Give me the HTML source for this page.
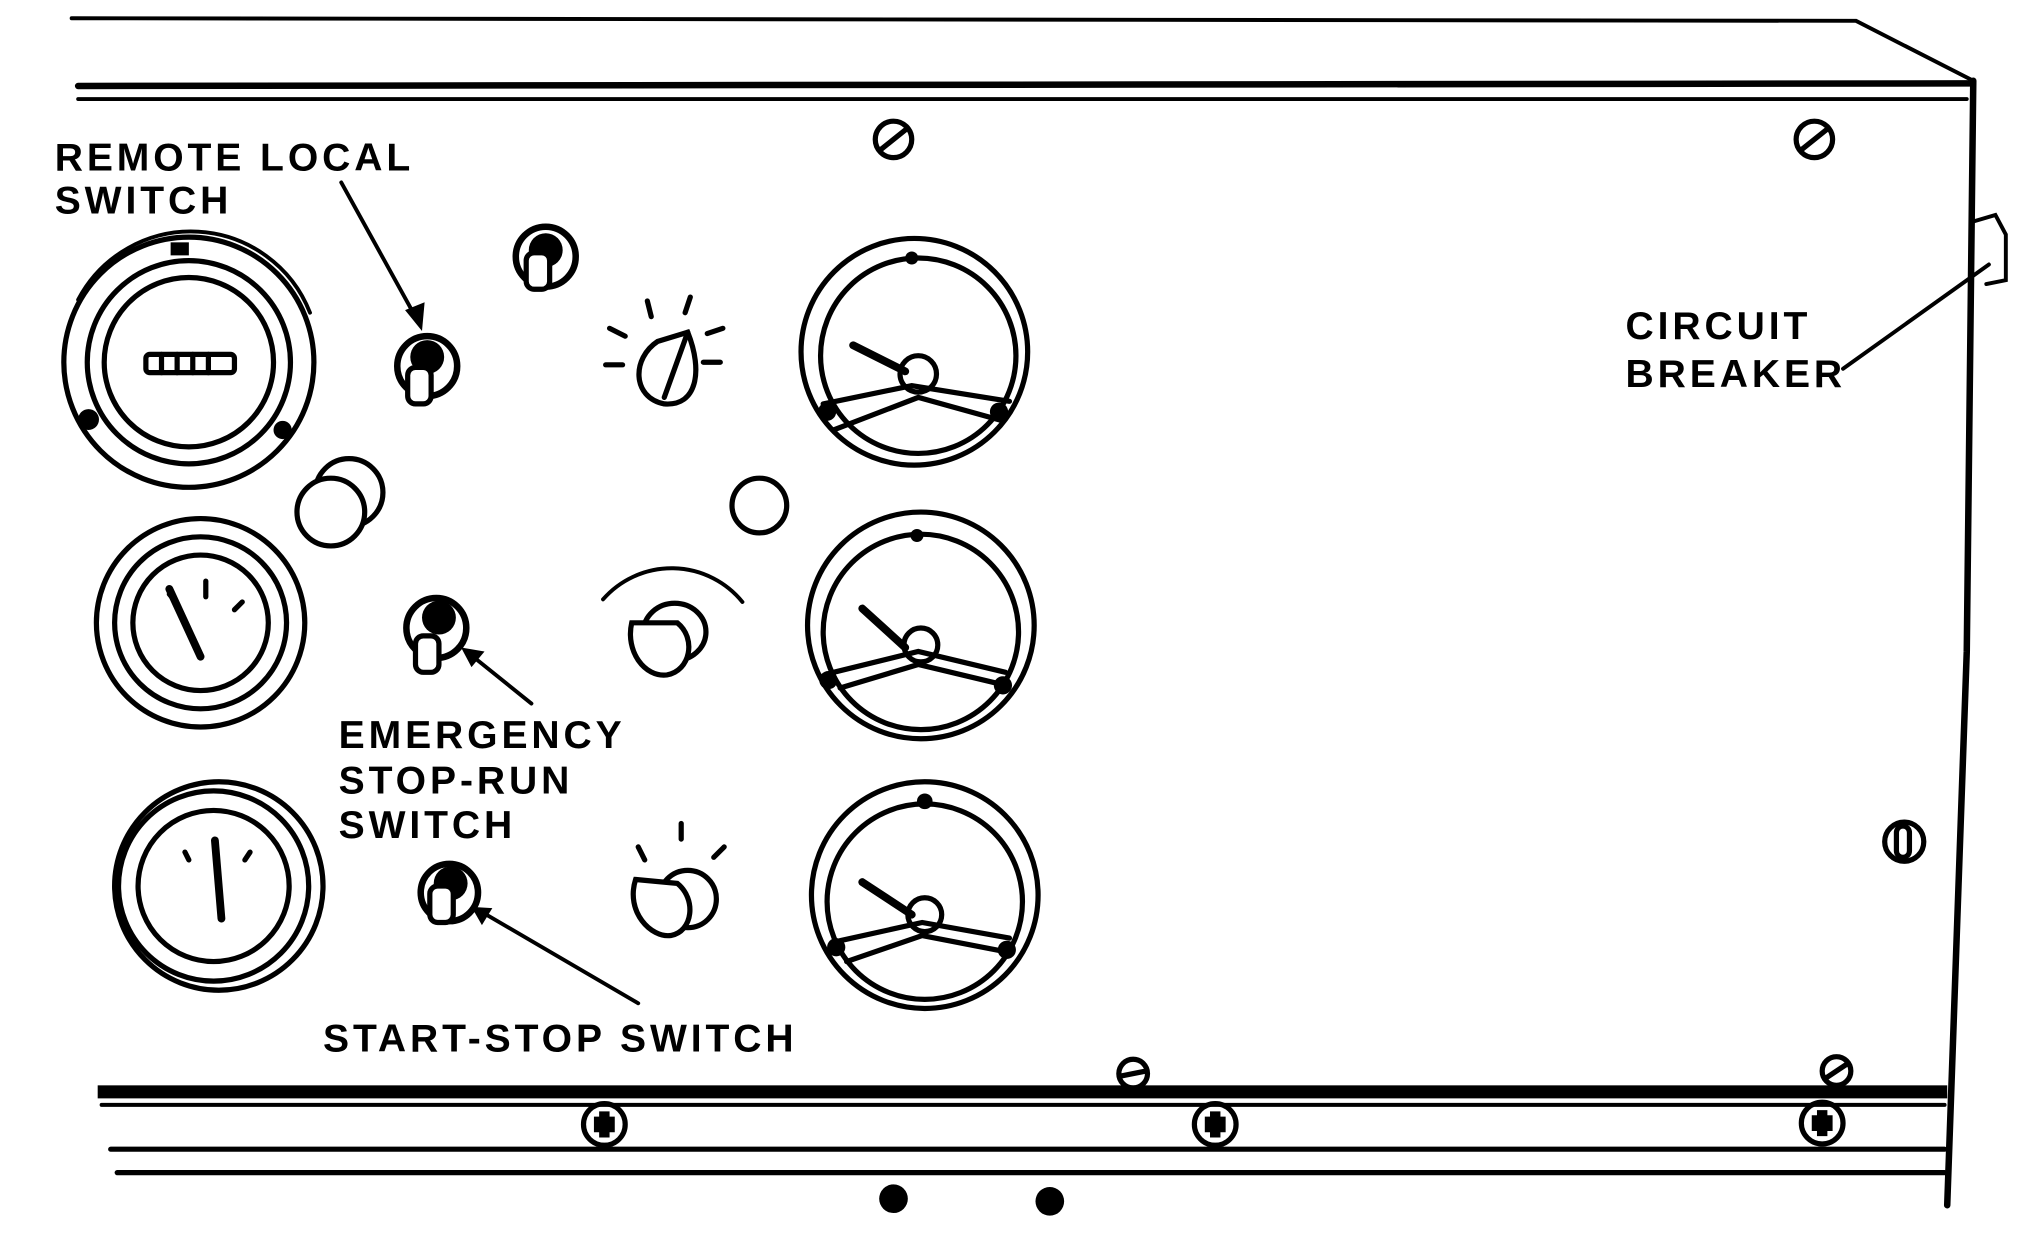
<!DOCTYPE html>
<html><head><meta charset="utf-8"><style>
html,body{margin:0;padding:0;background:#fff}
svg{display:block}
text{font-family:"Liberation Sans",sans-serif;font-weight:bold;font-size:30px;fill:#000;letter-spacing:3px}
</style></head><body>
<svg width="2041" height="1243" viewBox="0 0 1567 954" preserveAspectRatio="none" xmlns="http://www.w3.org/2000/svg">
<g fill="none" stroke="#000" stroke-linecap="round" stroke-width="4">
<path d="M55 14 L1425 16 L1515 62" stroke-width="3"/>
<line x1="60" y1="66" x2="1515" y2="64" stroke-width="5"/>
<line x1="60" y1="76" x2="1510" y2="76" stroke-width="3"/>
<path d="M1515 62 L1510 500 L1495 925" stroke-width="5"/>
<path d="M1515 170 L1532 165 L1540 180 L1540 215 L1525 218" stroke-width="3"/>
<rect x="75" y="833" width="1420" height="10" fill="#000" stroke="none"/>
<line x1="78" y1="848" x2="1493" y2="848" stroke-width="3"/>
<line x1="85" y1="882" x2="1493" y2="882" stroke-width="4"/>
<line x1="90" y1="900" x2="1493" y2="900" stroke-width="4"/>
<g stroke-width="4">
<circle cx="686" cy="107" r="14"/><line x1="676" y1="115" x2="696" y2="99"/>
<circle cx="1393" cy="107" r="14"/><line x1="1383" y1="115" x2="1403" y2="99"/>
<circle cx="870" cy="824" r="11"/><line x1="860" y1="826" x2="880" y2="822"/>
<circle cx="1410" cy="822" r="11"/><line x1="1401" y1="828" x2="1419" y2="816"/>
<circle cx="1462" cy="646" r="15"/><rect x="1456" y="634" width="10" height="24" rx="5"/>
<circle cx="464" cy="863" r="16"/><circle cx="933" cy="863" r="16"/><circle cx="1399" cy="862" r="16"/>
</g>
<g fill="#000" stroke="none">
<path d="M456 857h16v12h-16z M460 853h8v20h-8z"/>
<path d="M925 857h16v12h-16z M929 853h8v20h-8z"/>
<path d="M1391 856h16v12h-16z M1395 852h8v20h-8z"/>
<circle cx="686" cy="920" r="11"/><circle cx="806" cy="922" r="11"/>
</g>
<circle cx="145" cy="278" r="96"/>
<path d="M60 230 A98 98 0 0 1 238 240" stroke-width="3"/>
<circle cx="145" cy="278" r="78"/>
<circle cx="145" cy="278" r="65"/>
<rect x="112" y="272" width="68" height="14" rx="3"/>
<line x1="124" y1="272" x2="124" y2="286"/><line x1="136" y1="272" x2="136" y2="286"/><line x1="148" y1="272" x2="148" y2="286"/><line x1="160" y1="272" x2="160" y2="286"/>
<g fill="#000" stroke="none"><rect x="131" y="186" width="14" height="10"/><circle cx="68" cy="322" r="8"/><circle cx="217" cy="330" r="7"/></g>
<circle cx="154" cy="478" r="80"/><circle cx="154" cy="478" r="66"/><circle cx="154" cy="478" r="52"/>
<line x1="130" y1="452" x2="154" y2="504" stroke-width="6"/>
<line x1="158" y1="446" x2="158" y2="458"/><line x1="135" y1="462" x2="130" y2="456"/><line x1="180" y1="468" x2="186" y2="462"/>
<circle cx="168" cy="680" r="80"/><circle cx="164" cy="680" r="73"/><circle cx="164" cy="680" r="58"/>
<line x1="165" y1="645" x2="170" y2="705" stroke-width="6"/>
<line x1="145" y1="660" x2="142" y2="654"/><line x1="188" y1="660" x2="192" y2="654"/>
<circle cx="268" cy="378" r="26"/><circle cx="254" cy="393" r="26" fill="#fff"/>
<circle cx="583" cy="388" r="21"/>
<g stroke-width="5">
<circle cx="419" cy="197" r="23"/><circle cx="328" cy="281" r="23"/><circle cx="335" cy="482" r="23"/><circle cx="345" cy="685" r="22"/>
</g>
<g fill="#000" stroke="none"><circle cx="419" cy="192" r="13"/><circle cx="328" cy="274" r="13"/><circle cx="337" cy="474" r="13"/><circle cx="346" cy="678" r="13"/></g>
<rect x="404" y="194" width="18" height="28" rx="6" fill="#fff"/>
<rect x="313" y="282" width="18" height="28" rx="6" fill="#fff"/>
<rect x="319" y="488" width="18" height="28" rx="6" fill="#fff"/>
<rect x="330" y="680" width="18" height="28" rx="6" fill="#fff"/>
<path d="M528 255 L505 262 C485 275 485 305 510 310 C535 312 540 285 528 255Z"/>
<line x1="528" y1="255" x2="510" y2="305"/>
<line x1="497" y1="231" x2="500" y2="243"/><line x1="530" y1="228" x2="526" y2="240"/><line x1="468" y1="252" x2="480" y2="258"/><line x1="543" y1="256" x2="555" y2="252"/><line x1="465" y1="280" x2="478" y2="280"/><line x1="540" y1="278" x2="553" y2="278"/>
<path d="M463 460 A70 70 0 0 1 570 462" stroke-width="3"/>
<ellipse cx="518" cy="485" rx="24" ry="22"/>
<path d="M485 478 C480 500 495 520 512 518 C530 515 535 490 520 478 Z" fill="#fff"/>
<ellipse cx="528" cy="690" rx="22" ry="22"/>
<path d="M488 675 C480 700 500 720 515 718 C532 715 535 690 520 678 Z" fill="#fff"/>
<line x1="490" y1="650" x2="495" y2="660"/><line x1="523" y1="632" x2="523" y2="644"/><line x1="556" y1="650" x2="548" y2="658"/>
<circle cx="702" cy="270" r="87"/><circle cx="705" cy="273" r="75"/>
<path d="M632 310 L700 296 L775 308"/><path d="M640 330 L705 305 L770 323"/>
<circle cx="705" cy="287" r="14"/><line x1="655" y1="265" x2="695" y2="285" stroke-width="6"/>
<circle cx="707" cy="480" r="87"/><circle cx="707" cy="485" r="75"/>
<path d="M640 516 L705 500 L772 516"/><path d="M645 528 L705 510 L768 525"/>
<circle cx="707" cy="495" r="13"/><line x1="662" y1="467" x2="695" y2="497" stroke-width="6"/>
<circle cx="710" cy="687" r="87"/><circle cx="710" cy="692" r="75"/>
<path d="M645 722 L708 708 L775 720"/><path d="M650 738 L708 718 L770 730"/>
<circle cx="710" cy="702" r="13"/><line x1="662" y1="677" x2="700" y2="702" stroke-width="6"/>
<g fill="#000" stroke="none">
<circle cx="700" cy="198" r="5"/><circle cx="635" cy="316" r="7"/><circle cx="767" cy="316" r="7"/>
<circle cx="704" cy="411" r="5"/><circle cx="636" cy="522" r="7"/><circle cx="770" cy="526" r="7"/>
<circle cx="710" cy="615" r="6"/><circle cx="642" cy="727" r="7"/><circle cx="773" cy="729" r="7"/>
</g>
<g stroke-width="3">
<line x1="262" y1="140" x2="320" y2="245"/>
<line x1="408" y1="540" x2="362" y2="503"/>
<line x1="490" y1="770" x2="370" y2="700"/>
<line x1="1415" y1="283" x2="1527" y2="203"/>
</g>
<g fill="#000" stroke="none">
<path d="M324 254 L311 238 L326 232 Z"/>
<path d="M354 497 L372 500 L362 512 Z"/>
<path d="M362 696 L378 697 L370 710 Z"/>
</g>
</g>
<text x="42" y="131">REMOTE  LOCAL</text>
<text x="42" y="164">SWITCH</text>
<text x="1248" y="260">CIRCUIT</text>
<text x="1248" y="297">BREAKER</text>
<text x="260" y="574">EMERGENCY</text>
<text x="260" y="609">STOP-RUN</text>
<text x="260" y="643">SWITCH</text>
<text x="248" y="807">START-STOP SWITCH</text>
</svg>
</body></html>
